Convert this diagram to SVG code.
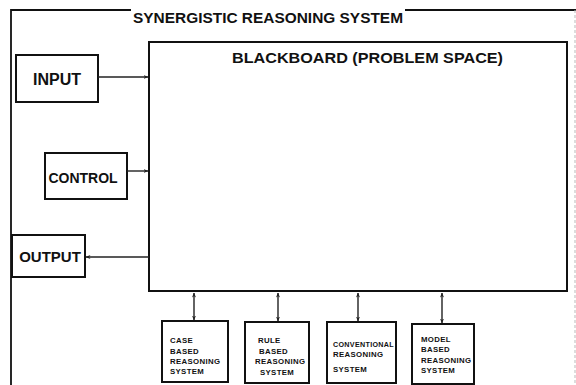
<svg xmlns="http://www.w3.org/2000/svg" width="576" height="385" viewBox="0 0 576 385">
  <style>
    .box { fill: #fff; stroke: #111; stroke-width: 2; }
    .big { font-family: "Liberation Sans", Arial, sans-serif; font-weight: bold; fill: #111; }
    .small { font-family: "Liberation Sans", Arial, sans-serif; font-weight: bold; font-size: 7.8px; letter-spacing: 0.35px; fill: #111; }
    .link { stroke: #222; stroke-width: 1.4; fill: none; }
  </style>
  <defs>
    <marker id="head" viewBox="0 0 10 10" refX="9" refY="5" markerWidth="5" markerHeight="5" orient="auto-start-reverse" markerUnits="userSpaceOnUse">
      <path d="M0,1 L10,5 L0,9 L3,5 Z" fill="#222"/>
    </marker>
  </defs>
  <rect width="576" height="385" fill="#fff"/>

  <!-- outer system frame -->
  <g id="frame">
    <path d="M11,385 L11,10 L576,10" fill="none" stroke="#111" stroke-width="1.8"/>
    <line x1="575" y1="10" x2="575" y2="385" stroke="#bbb" stroke-width="1" stroke-dasharray="3,2"/>
    <rect x="131" y="8" width="274" height="5" fill="#fff"/>
    <text class="big" x="133" y="23" font-size="15.5" textLength="270" lengthAdjust="spacingAndGlyphs">SYNERGISTIC REASONING SYSTEM</text>
  </g>

  <g id="blackboard">
    <rect class="box" x="149" y="42" width="418" height="249" stroke-width="2.4"/>
    <text class="big" x="232" y="63" font-size="14.5" textLength="271" lengthAdjust="spacingAndGlyphs">BLACKBOARD (PROBLEM SPACE)</text>
  </g>

  <g id="input">
    <rect class="box" x="16" y="55" width="82" height="47"/>
    <text class="big" x="57" y="85" font-size="16" text-anchor="middle">INPUT</text>
  </g>

  <g id="control">
    <rect class="box" x="45" y="153" width="82" height="46"/>
    <text class="big" x="83" y="183" font-size="14" text-anchor="middle">CONTROL</text>
  </g>

  <g id="output">
    <rect class="box" x="12" y="235" width="73" height="42"/>
    <text class="big" x="50" y="262" font-size="15" text-anchor="middle">OUTPUT</text>
  </g>

  <g id="case-based">
    <rect class="box" x="162" y="321" width="66" height="61"/>
    <text class="small" x="170" y="343">CASE</text>
    <text class="small" x="170" y="354">BASED</text>
    <text class="small" x="170" y="364">REASONING</text>
    <text class="small" x="170" y="374">SYSTEM</text>
  </g>

  <g id="rule-based">
    <rect class="box" x="245" y="322" width="64" height="61"/>
    <text class="small" x="258" y="343">RULE</text>
    <text class="small" x="259" y="354">BASED</text>
    <text class="small" x="255" y="364">REASONING</text>
    <text class="small" x="260" y="375">SYSTEM</text>
  </g>

  <g id="conventional">
    <rect class="box" x="327" y="322" width="69" height="61"/>
    <text class="small" x="333" y="347" letter-spacing="0" textLength="61" lengthAdjust="spacingAndGlyphs">CONVENTIONAL</text>
    <text class="small" x="333" y="357">REASONING</text>
    <text class="small" x="333" y="372">SYSTEM</text>
  </g>

  <g id="model-based">
    <rect class="box" x="412" y="324" width="62" height="60"/>
    <text class="small" x="421" y="342">MODEL</text>
    <text class="small" x="421" y="352">BASED</text>
    <text class="small" x="421" y="363">REASONING</text>
    <text class="small" x="421" y="373">SYSTEM</text>
  </g>

  <g id="connectors">
    <line class="link" x1="98" y1="77" x2="148" y2="77" marker-end="url(#head)"/>
    <line class="link" x1="127" y1="171" x2="148" y2="171" marker-end="url(#head)"/>
    <line class="link" x1="149" y1="257" x2="86" y2="257" marker-end="url(#head)"/>
    <line class="link" x1="194" y1="293" x2="194" y2="320" marker-start="url(#head)" marker-end="url(#head)"/>
    <line class="link" x1="278" y1="293" x2="278" y2="321" marker-start="url(#head)" marker-end="url(#head)"/>
    <line class="link" x1="358" y1="293" x2="358" y2="321" marker-start="url(#head)" marker-end="url(#head)"/>
    <line class="link" x1="442" y1="293" x2="442" y2="323" marker-start="url(#head)" marker-end="url(#head)"/>
  </g>
</svg>
